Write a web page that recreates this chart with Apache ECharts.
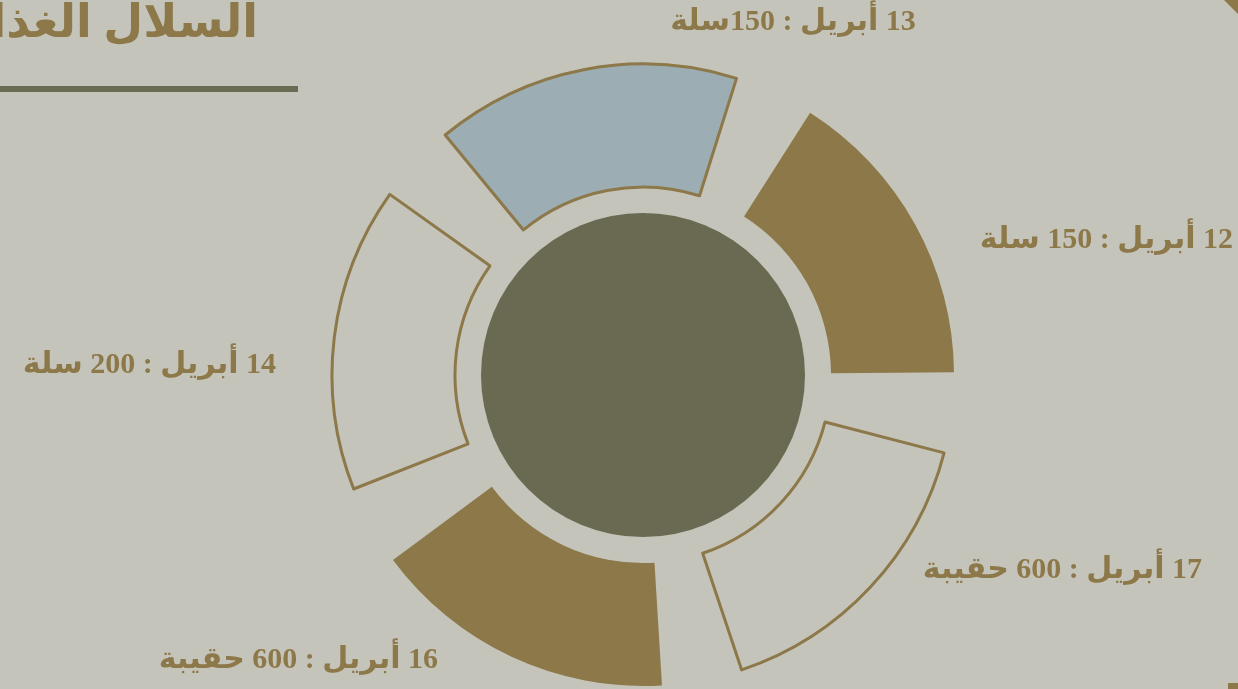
<!DOCTYPE html>
<html>
<head>
<meta charset="utf-8">
<script src="https://cdn.jsdelivr.net/npm/echarts@6/dist/echarts.min.js"></script>
<style>
  html, body { margin: 0; padding: 0; background: #c5c4ba; }
  #main { width: 1238px; height: 689px; }
</style>
</head>
<body>
<div id="main" dir="rtl"></div>
<script>
// 数据
const days = ['13 أبريل', '12 أبريل', '17 أبريل', '16 أبريل', '14 أبريل']
const amounts = [150, 150, 600, 600, 200]
const units = ['سلة', 'سلة', 'حقيبة', 'حقيبة', 'سلة']
// 每段大小相同（原图为等分环形）
const sliceWeights = [1, 1, 1, 1, 1]
const fillColors = ['#9caeb3', '#8c7849', '#c5c4ba', '#8c7849', '#c5c4ba']
const borderOn = [true, false, true, false, true]
const titleText = 'السلال الغذائية'

const BROWN = '#8c7849'
const OLIVE = '#696a51'
const FONT = "'Liberation Serif', 'DejaVu Sans', serif"

// 标签位置（对齐方式 + 锚点）
const labelSpots = [
  { x: 793, y: 22, align: 'center' },
  { x: 1233, y: 240, align: 'right' },
  { x: 1202, y: 570, align: 'right' },
  { x: 438, y: 660, align: 'right' },
  { x: 276, y: 365, align: 'right' }
]

const chart = echarts.init(document.getElementById('main'))

const ringData = days.map((d, i) => ({
  name: d,
  value: sliceWeights[i],
  amount: amounts[i],
  itemStyle: {
    color: fillColors[i],
    borderColor: borderOn[i] ? BROWN : fillColors[i],
    borderWidth: borderOn[i] ? 3 : 0
  }
}))

const option = {
  backgroundColor: '#c5c4ba',
  animation: false,
  graphic: [
    {
      type: 'text',
      right: 1238 - 258,
      top: 2,
      style: {
        text: titleText,
        fill: BROWN,
        font: "bold 46px " + FONT,
        textAlign: 'right'
      }
    },
    {
      type: 'rect',
      shape: { x: 0, y: 86, width: 298, height: 6 },
      style: { fill: '#6b6b53' }
    },
    {
      type: 'polygon',
      shape: { points: [[1224, 0], [1238, 0], [1238, 14]] },
      style: { fill: BROWN }
    },
    {
      type: 'rect',
      shape: { x: 1228, y: 683, width: 10, height: 6 },
      style: { fill: BROWN }
    }
  ],
  series: [
    {
      type: 'pie',
      center: [643, 375],
      radius: [188, 311],
      startAngle: 137,
      clockwise: true,
      padAngle: 15,
      avoidLabelOverlap: false,
      data: ringData,
      label: {
        show: true,
        position: 'outside',
        color: BROWN,
        fontFamily: FONT,
        fontWeight: 'bold',
        fontSize: 30,
        formatter: (p) => {
          const i = p.dataIndex
          const gap = i === 0 ? '' : ' '
          return days[i] + ' : ' + amounts[i] + gap + units[i]
        }
      },
      labelLine: { show: false },
      labelLayout: (params) => {
        const s = labelSpots[params.dataIndex]
        return { x: s.x, y: s.y, align: s.align, verticalAlign: 'middle' }
      },
      emphasis: { disabled: true }
    },
    {
      type: 'pie',
      center: [643, 375],
      radius: [0, 162],
      silent: true,
      label: { show: false },
      labelLine: { show: false },
      data: [{ value: 1, itemStyle: { color: OLIVE } }]
    }
  ]
}

chart.setOption(option)
</script>
</body>
</html>
